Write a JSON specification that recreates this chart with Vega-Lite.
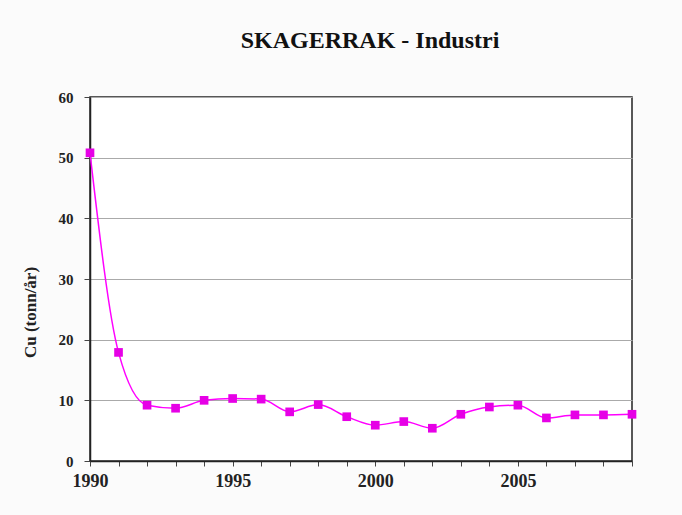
{
  "$schema": "https://vega.github.io/schema/vega-lite/v6.json",
  "autosize": {"type": "none"},
  "width": 542,
  "height": 364,
  "padding": {"left": 90, "top": 97, "right": 50, "bottom": 54},
  "background": "#fbfbfb",
  "title": {
    "text": "SKAGERRAK - Industri",
    "font": "Liberation Serif",
    "fontSize": 24,
    "fontWeight": "bold",
    "color": "#111111",
    "anchor": "middle",
    "dx": 9,
    "offset": 37
  },
  "config": {
    "view": {"stroke": "#222222", "strokeWidth": 1.5, "fill": "white"},
    "axis": {
      "labelFont": "Liberation Serif",
      "labelFontWeight": "bold",
      "labelColor": "#222222",
      "titleFont": "Liberation Serif",
      "titleFontWeight": "bold",
      "titleColor": "#222222",
      "domainColor": "#222222",
      "domainWidth": 1.5,
      "tickColor": "#444444"
    }
  },
  "data": {
    "values": [
      {"year": 1990, "cu": 50.8},
      {"year": 1991, "cu": 17.9},
      {"year": 1992, "cu": 9.2},
      {"year": 1993, "cu": 8.7},
      {"year": 1994, "cu": 10.0},
      {"year": 1995, "cu": 10.3},
      {"year": 1996, "cu": 10.2},
      {"year": 1997, "cu": 8.1},
      {"year": 1998, "cu": 9.3},
      {"year": 1999, "cu": 7.3},
      {"year": 2000, "cu": 5.9},
      {"year": 2001, "cu": 6.5},
      {"year": 2002, "cu": 5.4},
      {"year": 2003, "cu": 7.7},
      {"year": 2004, "cu": 8.9},
      {"year": 2005, "cu": 9.2},
      {"year": 2006, "cu": 7.1},
      {"year": 2007, "cu": 7.6},
      {"year": 2008, "cu": 7.6},
      {"year": 2009, "cu": 7.7}
    ]
  },
  "encoding": {
    "x": {
      "field": "year",
      "type": "quantitative",
      "scale": {"domain": [1990, 2009], "nice": false, "zero": false},
      "axis": {
        "title": null,
        "grid": false,
        "values": [1990,1991,1992,1993,1994,1995,1996,1997,1998,1999,2000,2001,2002,2003,2004,2005,2006,2007,2008,2009],
        "format": "d",
        "labelExpr": "datum.value % 5 == 0 ? datum.label : ''",
        "labelFontSize": 18,
        "tickSize": 5,
        "labelPadding": 6,
        "labelFlush": false
      }
    },
    "y": {
      "field": "cu",
      "type": "quantitative",
      "scale": {"domain": [0, 60], "nice": false},
      "axis": {
        "title": "Cu (tonn/år)",
        "values": [0, 10, 20, 30, 40, 50, 60],
        "grid": true,
        "gridColor": "#aaaaaa",
        "gridWidth": 1,
        "labelFontSize": 15,
        "titleFontSize": 17,
        "tickSize": 6,
        "labelPadding": 11,
        "titleX": -51,
        "titleY": 215,
        "titleAngle": -90
      }
    }
  },
  "layer": [
    {
      "mark": {"type": "line", "color": "#ff00ff", "strokeWidth": 1.5, "interpolate": "monotone"}
    },
    {
      "mark": {"type": "square", "color": "#e600e6", "filled": true, "size": 75, "opacity": 1}
    }
  ]
}
